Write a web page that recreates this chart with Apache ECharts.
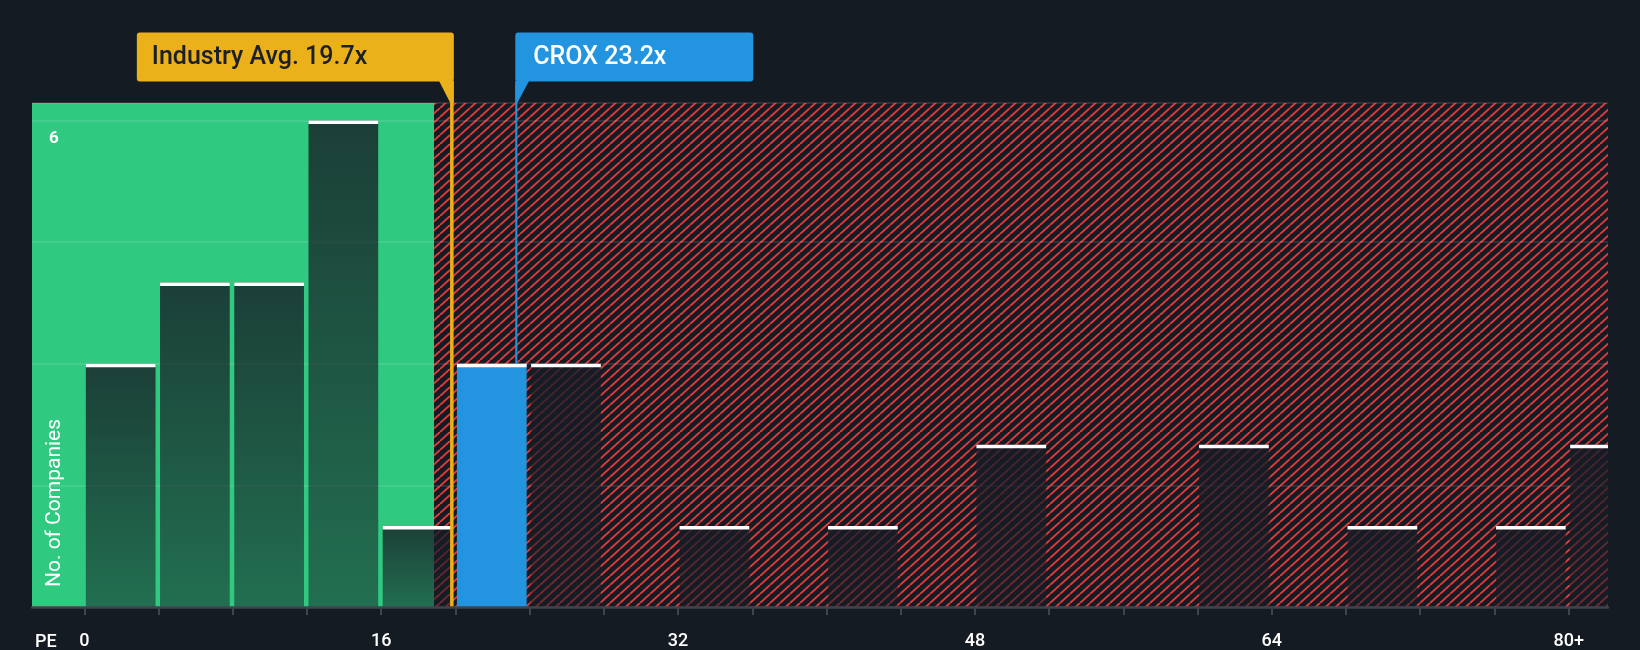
<!DOCTYPE html>
<html>
<head>
<meta charset="utf-8">
<script src="https://cdn.jsdelivr.net/npm/echarts@6/dist/echarts.min.js"></script>
<style>
html,body{margin:0;padding:0;background:#151b23;}
#chart{width:1640px;height:650px;}
</style>
</head>
<body>
<div id="chart"></div>
<script>
// ---- data ----
const binStarts = [0,4,8,12,16,20,24,28,32,36,40,44,48,52,56,60,64,68,72,76,80];
const binCounts = [3,4,4,6,1,3,3,0,1,0,1,0,2,0,0,2,0,1,0,1,2];
const binWidth = 4;
const industryAvg = 19.7;
const companyPE = 23.2;
const companyName = 'CROX';
const xLabelValues = [0,16,32,48,64,80];
const xTickValues = [0,4,8,12,16,20,24,28,32,36,40,44,48,52,56,60,64,68,72,76,80];
const yLabelValues = [6];
const xMin = -2.82, xMax = 82.12, yMax = 6.215;
const greenEnd = 18.85;

// ---- styles ----
const BG = '#151b23';
const GREEN = '#2fc980';
const RED = '#e03b3d';
const YELLOW = '#ebb11b';
const BLUE = '#2394df';
const FONT = 'Roboto, "Noto Sans", sans-serif';

// hatch pattern
const PW = 10, PH = 9;
const pc = document.createElement('canvas');
pc.width = PW; pc.height = PH;
const pctx = pc.getContext('2d');
pctx.fillStyle = BG; pctx.fillRect(0,0,PW,PH);
pctx.strokeStyle = RED; pctx.lineWidth = 1.9;
for (let k=-1;k<=1;k++){ pctx.beginPath(); pctx.moveTo(k*PW,PH); pctx.lineTo(k*PW+PW,0); pctx.stroke(); }

const companyBin = binStarts.findIndex(s => companyPE >= s && companyPE < s + binWidth);
const barData = binStarts.map((s,i) => [s, binCounts[i], i === companyBin ? 1 : 0]);

const chart = echarts.init(document.getElementById('chart'), null, {renderer:'canvas'});
chart.setOption({
  backgroundColor: BG,
  animation: false,
  grid: {left: 32, right: 32, top: 103, bottom: 42},
  xAxis: {
    type: 'value', min: xMin, max: xMax, z: 6,
    axisLine: {show: true, lineStyle: {color: '#3e434c', width: 2.5}},
    axisTick: {show: true, customValues: xTickValues, length: 8, lineStyle: {color: '#3e434c', width: 2}},
    axisLabel: {customValues: xLabelValues, formatter: v => v === 80 ? '80+' : String(v),
      color: '#ffffff', fontSize: 18, fontWeight: 500, fontFamily: FONT, margin: 25},
    splitLine: {show: false}
  },
  yAxis: {
    type: 'value', min: 0, max: yMax, interval: 1.5, z: 1,
    axisLine: {show: false}, axisTick: {show: false},
    splitLine: {show: true, lineStyle: {color: 'rgba(255,255,255,0.10)', width: 2}},
    axisLabel: {inside: true, formatter: v => yLabelValues.includes(v) ? String(v) : '',
      color: '#ffffff', fontSize: 17, fontWeight: 'bold', fontFamily: FONT, margin: 17,
      verticalAlign: 'top', padding: [10,0,0,0]}
  },
  graphic: [
    {type: 'text', left: 35, top: 633, z: 10,
      style: {text: 'PE', fill: '#ffffff', font: '500 18px ' + FONT}},
    {type: 'text', x: 55, y: 503, rotation: Math.PI/2, z: 10,
      style: {text: 'No. of Companies', fill: '#ffffff', font: '21px ' + FONT, align: 'center', verticalAlign: 'middle'}}
  ],
  series: [
    {
      type: 'custom', z: 0, silent: true,
      data: [[xMin, greenEnd, 0], [greenEnd, xMax, 1]],
      encode: {x: [0,1]},
      renderItem: function(params, api){
        const cs = params.coordSys;
        const a = api.coord([api.value(0), 0])[0];
        const b = api.coord([api.value(1), 0])[0];
        const hatch = api.value(2) === 1;
        return {type: 'rect', shape: {x: a, y: cs.y, width: b - a, height: cs.height},
          style: {fill: hatch ? {image: pc, repeat: 'repeat'} : GREEN}};
      }
    },
    {
      type: 'custom', z: 3, silent: true,
      data: barData,
      encode: {x: 0, y: 1},
      renderItem: function(params, api){
        const cs = params.coordSys;
        const s = api.value(0), c = api.value(1), isCo = api.value(2) === 1;
        if (!c) return null;
        const p0 = api.coord([s, c]);
        const p1 = api.coord([s + binWidth, 0]);
        const left = p0[0] + 1.5;
        const right = Math.min(p1[0] - 3, cs.x + cs.width);
        const fill = isCo ? BLUE : new echarts.graphic.LinearGradient(0,0,0,1,[
          {offset: 0, color: 'rgba(22,28,37,0.80)'},
          {offset: 1, color: 'rgba(22,28,37,0.52)'}]);
        return {type: 'group', children: [
          {type: 'rect', shape: {x: left, y: p0[1], width: right - left, height: p1[1] - p0[1]}, style: {fill: fill}},
          {type: 'rect', shape: {x: left, y: p0[1], width: right - left, height: 3.5}, style: {fill: '#ffffff'}}
        ]};
      }
    },
    {
      type: 'custom', z: 5, silent: true, clip: false,
      data: [[industryAvg, 0], [companyPE, 1]],
      encode: {x: 0},
      renderItem: function(params, api){
        const cs = params.coordSys;
        const v = api.value(0), kind = api.value(1);
        const px = api.coord([v, 0])[0];
        const boxTop = 32.5, boxBot = 81.5, tipY = cs.y;
        if (kind === 0) {
          const lx = px + 2;
          const right = lx + 2;
          const left = right - 317;
          return {type: 'group', children: [
            {type: 'rect', shape: {x: lx - 1.75, y: boxBot, width: 3.5, height: cs.y + cs.height - boxBot}, style: {fill: YELLOW}},
            {type: 'rect', shape: {x: left, y: boxTop, width: right - left, height: boxBot - boxTop, r: 3}, style: {fill: YELLOW}},
            {type: 'polygon', shape: {points: [[right - 15, boxBot - 1], [right, boxBot - 1], [right, tipY], [lx - 1.5, tipY]]}, style: {fill: YELLOW}},
            {type: 'text', x: left + 15, y: (boxTop + boxBot) / 2 + 1,
              style: {text: 'Industry Avg. ' + industryAvg.toFixed(1) + 'x', fill: '#1a1f28', font: '500 25px ' + FONT, verticalAlign: 'middle'}}
          ]};
        } else {
          const lx = px + 1.5;
          const left = lx - 1;
          const right = left + 238;
          const barTop = api.coord([v, binCounts[companyBin]])[1];
          return {type: 'group', children: [
            {type: 'rect', shape: {x: lx - 1, y: boxBot, width: 2, height: barTop - boxBot}, style: {fill: BLUE}},
            {type: 'rect', shape: {x: left, y: boxTop, width: right - left, height: boxBot - boxTop, r: 3}, style: {fill: BLUE}},
            {type: 'polygon', shape: {points: [[left, boxBot - 1], [left + 14, boxBot - 1], [left + 2, tipY], [left, tipY]]}, style: {fill: BLUE}},
            {type: 'text', x: left + 18, y: (boxTop + boxBot) / 2 + 1,
              style: {text: companyName + ' ' + companyPE.toFixed(1) + 'x', fill: '#ffffff', font: '500 25px ' + FONT, verticalAlign: 'middle'}}
          ]};
        }
      }
    }
  ]
});
</script>
</body>
</html>
